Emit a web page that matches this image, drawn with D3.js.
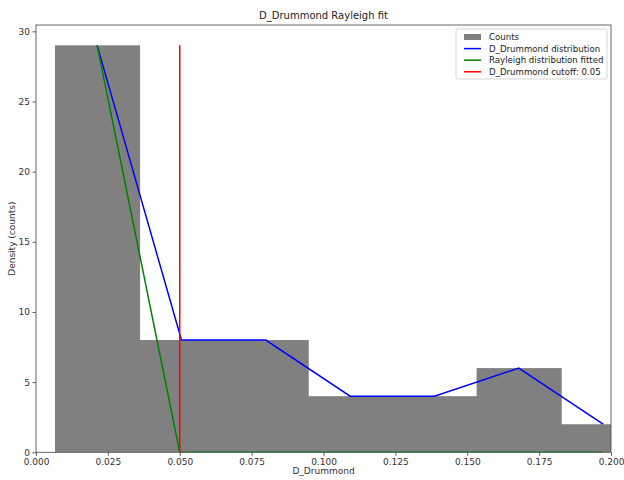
<!DOCTYPE html>
<html><head><meta charset="utf-8">
<script src="https://cdn.jsdelivr.net/npm/d3@7"></script>
<style>body{margin:0;background:#fff;} text{font-family:"DejaVu Sans",sans-serif;}</style>
</head><body>
<svg id="c" width="624" height="480"></svg>
<script>
const binEdges = [0.0066, 0.03593, 0.06526, 0.09459, 0.12392, 0.15325, 0.18258, 0.21191];
const counts = [29, 8, 8, 4, 4, 6, 2];
const binCenters = [0.02127, 0.0506, 0.07993, 0.10926, 0.13859, 0.16792, 0.19725];
const distValues = [29, 8, 8, 4, 4, 6, 2];
const rayleighValues = [29, 0, 0, 0, 0, 0, 0];
const rayleighX = [0.02127, 0.0500, 0.07993, 0.10926, 0.13859, 0.16792, 0.19725];
const cutoff = 0.05;
const cutoffTop = 29;
const xTicks = [0, 0.025, 0.05, 0.075, 0.1, 0.125, 0.15, 0.175, 0.2];
const yTicks = [0, 5, 10, 15, 20, 25, 30];
const legendLabels = ["Counts", "D_Drummond distribution", "Rayleigh distribution fitted", "D_Drummond cutoff: 0.05"];

const svg = d3.select("#c");
const L = 36, R = 611, T = 25, B = 452.3;
const x = d3.scaleLinear().domain([0, 0.2]).range([L, R]);
const y = d3.scaleLinear().domain([0, 30.45]).range([B, T]);

svg.append("defs").append("clipPath").attr("id","clip").append("rect")
  .attr("x", L).attr("y", T).attr("width", R-L).attr("height", B-T);
const g = svg.append("g").attr("clip-path","url(#clip)");

// bars (slight overlap to avoid seams between adjacent bins)
g.selectAll("rect.bar").data(counts).enter().append("rect")
  .attr("x", (d,i)=>x(binEdges[i]))
  .attr("width", (d,i)=>x(binEdges[i+1])-x(binEdges[i]) + (i < counts.length-1 ? 0.8 : 0))
  .attr("y", d=>y(d)).attr("height", d=>B-y(d))
  .attr("fill", "#808080");

const line = d3.line().x(d=>x(d[0])).y(d=>y(d[1]));
g.append("path").datum(binCenters.map((c,i)=>[c, distValues[i]]))
  .attr("d", line).attr("fill","none").attr("stroke","#0000ff").attr("stroke-width",1.5);
g.append("path").datum(rayleighX.map((c,i)=>[c, rayleighValues[i]]))
  .attr("d", line).attr("fill","none").attr("stroke","#008000").attr("stroke-width",1.5);
g.append("path").datum([[cutoff,0],[cutoff,cutoffTop]])
  .attr("d", line).attr("fill","none").attr("stroke","#ff0000").attr("stroke-width",1.5);

// axes
const xa = svg.append("g").attr("transform",`translate(0,${B})`)
  .call(d3.axisBottom(x).tickValues(xTicks).tickFormat(d3.format(".3f")).tickSizeOuter(0).tickSize(3.5).tickPadding(2.5));
const ya = svg.append("g").attr("transform",`translate(${L},0)`)
  .call(d3.axisLeft(y).tickValues(yTicks).tickFormat(d3.format("d")).tickSizeOuter(0).tickSize(3.5).tickPadding(2.5));
[xa, ya].forEach(a=>{
  a.select(".domain").remove();
  a.selectAll("text").attr("font-size", 9).attr("fill","#333").style("font-family","DejaVu Sans");
  a.selectAll("line").attr("stroke","#333").attr("stroke-width",0.8);
});
svg.append("rect").attr("x",L).attr("y",T).attr("width",R-L).attr("height",B-T)
  .attr("fill","none").attr("stroke","#444").attr("stroke-width",0.8);

// labels
svg.append("text").attr("x",(L+R)/2).attr("y",19).attr("text-anchor","middle")
  .attr("font-size",10).attr("fill","#222").text("D_Drummond Rayleigh fit");
svg.append("text").attr("x",(L+R)/2).attr("y",474).attr("text-anchor","middle")
  .attr("font-size",9).attr("fill","#333").text("D_Drummond");
svg.append("text").attr("transform",`translate(15,${(T+B)/2}) rotate(-90)`).attr("text-anchor","middle")
  .attr("font-size",9).attr("fill","#333").text("Density (counts)");

// legend
const lg = svg.append("g");
lg.append("rect").attr("x",456).attr("y",29).attr("width",151).attr("height",50).attr("rx",2)
  .attr("fill","#fff").attr("fill-opacity",0.8).attr("stroke","#ccc").attr("stroke-width",0.8);
const colors = ["#808080","#0000ff","#008000","#ff0000"];
legendLabels.forEach((t,i)=>{
  const yy = 37 + i*11.6;
  if(i===0){
    lg.append("rect").attr("x",464).attr("y",yy-3).attr("width",17).attr("height",6).attr("fill",colors[i]);
  } else {
    lg.append("line").attr("x1",464).attr("x2",481).attr("y1",yy).attr("y2",yy)
      .attr("stroke",colors[i]).attr("stroke-width",1.5);
  }
  lg.append("text").attr("x",489).attr("y",yy+3.2).attr("font-size",8.6).attr("fill","#222").text(t);
});
</script>
</body></html>
